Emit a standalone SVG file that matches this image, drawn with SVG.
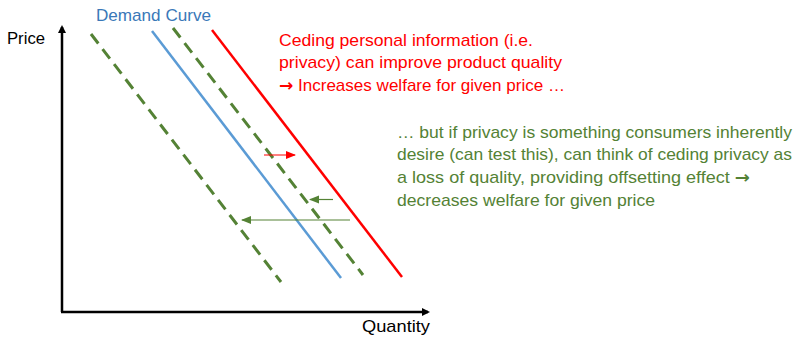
<svg xmlns="http://www.w3.org/2000/svg" width="798" height="338" viewBox="0 0 798 338">
<style>
text{font-family:"Liberation Sans","DejaVu Sans",sans-serif;font-size:17px}
.arr{font-family:"DejaVu Sans",sans-serif;font-weight:bold}
.axis{stroke:#000;stroke-width:2.5;fill:none}
.dash{stroke:#548235;stroke-width:3;stroke-dasharray:12 7;fill:none}
.g{fill:#548235}
.r{fill:#ff0000}
</style>
<defs>
<marker id="ah" markerWidth="8" markerHeight="8" refX="6" refY="4" orient="auto" markerUnits="userSpaceOnUse"><path d="M0,0 L8,4 L0,8 Z" fill="#000"/></marker>
<marker id="ahr" markerWidth="10" markerHeight="10" refX="9" refY="5" orient="auto" markerUnits="userSpaceOnUse"><path d="M0,1 L10,5 L0,9 Z" fill="#ff0000"/></marker>
<marker id="ahg" markerWidth="10" markerHeight="10" refX="9" refY="5" orient="auto" markerUnits="userSpaceOnUse"><path d="M0,1 L10,5 L0,9 Z" fill="#548235"/></marker>
</defs>
<g id="axes">
<line class="axis" x1="62" y1="312" x2="62" y2="27" marker-end="url(#ah)"/>
<line class="axis" x1="61" y1="312" x2="428" y2="312" marker-end="url(#ah)"/>
<text x="7" y="44" textLength="38" lengthAdjust="spacingAndGlyphs">Price</text>
<text x="362" y="332" textLength="68" lengthAdjust="spacingAndGlyphs">Quantity</text>
</g>
<g id="curves">
<line id="dashed-left" class="dash" x1="91" y1="34" x2="281" y2="282"/>
<line id="demand" x1="152" y1="31" x2="341" y2="278" stroke="#5b9bd5" stroke-width="2.5"/>
<line id="dashed-right" class="dash" x1="173" y1="28" x2="363" y2="275"/>
<line id="red" x1="212" y1="30" x2="402" y2="277" stroke="#ff0000" stroke-width="2.5"/>
<text x="96" y="21" fill="#3a78b8" textLength="115" lengthAdjust="spacingAndGlyphs">Demand Curve</text>
</g>
<g id="connectors">
<line x1="264" y1="155" x2="295" y2="155" stroke="#ff0000" stroke-width="1" marker-end="url(#ahr)"/>
<line x1="333" y1="199.5" x2="310" y2="199.5" stroke="#548235" stroke-width="1.2" marker-end="url(#ahg)"/>
<line x1="350" y1="220" x2="242" y2="220" stroke="#548235" stroke-width="1.2" marker-end="url(#ahg)"/>
</g>
<g id="red-note" class="r">
<text x="279" y="46" textLength="254" lengthAdjust="spacingAndGlyphs">Ceding personal information (i.e.</text>
<text x="279" y="68" textLength="283" lengthAdjust="spacingAndGlyphs">privacy) can improve product quality</text>
<text x="279" y="91" textLength="286" lengthAdjust="spacingAndGlyphs"><tspan class="arr">→</tspan> Increases welfare for given price …</text>
</g>
<g id="green-note" class="g">
<text x="397" y="138" textLength="395" lengthAdjust="spacingAndGlyphs">… but if privacy is something consumers inherently</text>
<text x="397" y="160" textLength="395" lengthAdjust="spacingAndGlyphs">desire (can test this), can think of ceding privacy as</text>
<text x="397" y="183" textLength="353" lengthAdjust="spacingAndGlyphs">a loss of quality, providing offsetting effect <tspan class="arr">→</tspan></text>
<text x="397" y="206" textLength="258" lengthAdjust="spacingAndGlyphs">decreases welfare for given price</text>
</g>
</svg>
